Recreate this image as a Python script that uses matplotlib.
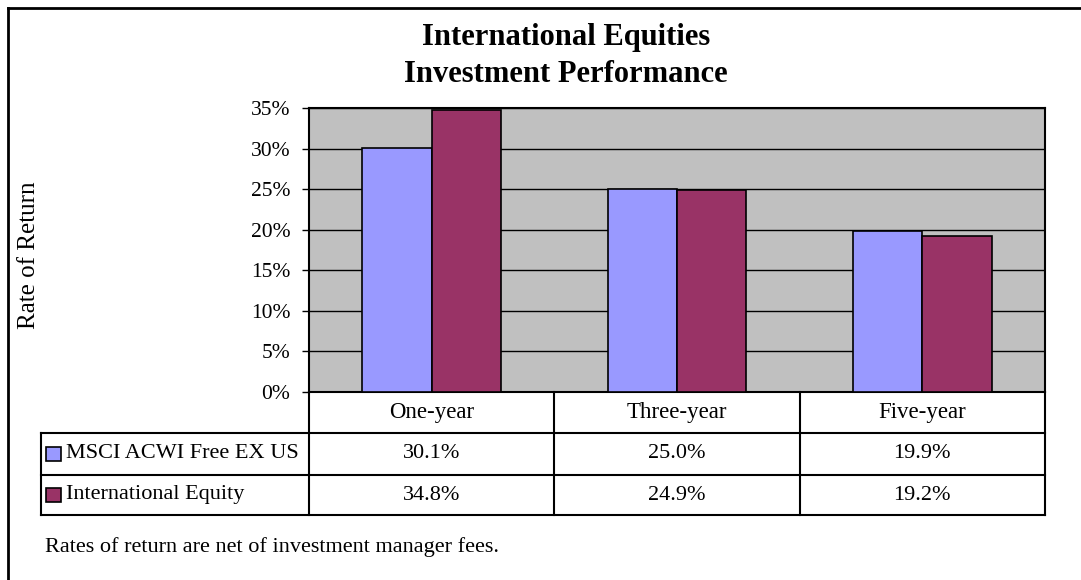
import matplotlib
matplotlib.use('Agg')
import matplotlib.pyplot as plt
from matplotlib.lines import Line2D
from matplotlib.patches import Rectangle
import matplotlib.transforms as mtransforms
import numpy as np

# ---- data ----
categories = ['One-year', 'Three-year', 'Five-year']
series_names = ['MSCI ACWI Free EX US', 'International Equity']
msci_values = [30.1, 25.0, 19.9]
intl_values = [34.8, 24.9, 19.2]
y_ticks = [0, 5, 10, 15, 20, 25, 30, 35]
title_lines = ['International Equities', 'Investment Performance']
y_label = 'Rate of Return'
footnote = 'Rates of return are net of investment manager fees.'
colors = ['#9999FF', '#993366']

plt.rcParams['font.family'] = ['Liberation Serif', 'DejaVu Serif']

W, H = 1081, 580
fig = plt.figure(figsize=(W / 100, H / 100), dpi=100)
fig.patch.set_facecolor('white')


def fx(x):
    return x / W


def fy(y):
    return 1 - y / H


PL, PR, PT, PB = 309, 1045, 108, 392
ax = fig.add_axes([fx(PL), fy(PB), (PR - PL) / W, (PB - PT) / H])
ax.set_facecolor('#C0C0C0')

x = np.arange(len(categories))
bw = 0.283
ax.bar(x - bw / 2, msci_values, bw, color=colors[0], edgecolor='black',
       linewidth=1.2, zorder=3)
ax.bar(x + bw / 2, intl_values, bw, color=colors[1], edgecolor='black',
       linewidth=1.2, zorder=3)
ax.set_xlim(-0.5, len(categories) - 0.5)
ax.set_ylim(0, 35)
ax.set_yticks(y_ticks)
ax.set_yticklabels([f'{t}%' for t in y_ticks])
ax.set_xticks([])
ax.yaxis.grid(True, color='black', linewidth=1.0)
ax.set_axisbelow(True)
ax.tick_params(axis='y', length=5, width=1, pad=8.5, labelsize=15.5)
for s in ax.spines.values():
    s.set_linewidth(1.5)
    s.set_color('black')

# title
fig.text(fx(566), fy(45), title_lines[0], ha='center', va='baseline',
         fontsize=22, fontweight='bold')
fig.text(fx(566), fy(82), title_lines[1], ha='center', va='baseline',
         fontsize=22, fontweight='bold')

# y label
fig.text(fx(29), fy(255), y_label, rotation=90, ha='center', va='center',
         fontsize=18)

# ---- data table ----
blend = mtransforms.blended_transform_factory(ax.transData, fig.transFigure)
TH, R1, R2, TB = 392, 433, 475, 515
LX = 41
lw = 1.5
for b in np.arange(len(categories) + 1) - 0.5:
    fig.add_artist(Line2D([b, b], [fy(TH), fy(TB)], transform=blend,
                          color='black', linewidth=lw))
fig.add_artist(Line2D([fx(LX), fx(LX)], [fy(R1), fy(TB)],
                      transform=fig.transFigure, color='black', linewidth=lw))
for yy in [R1, R2, TB]:
    fig.add_artist(Line2D([fx(LX), fx(PR)], [fy(yy), fy(yy)],
                          transform=fig.transFigure, color='black', linewidth=lw))

for i, c in enumerate(categories):
    fig.text(i, fy((TH + R1) / 2), c, transform=blend, ha='center',
             va='center', fontsize=16.5)

rows = [msci_values, intl_values]
row_centers = [(R1 + R2) / 2, (R2 + TB) / 2]
for r, (vals, yc) in enumerate(zip(rows, row_centers)):
    fig.add_artist(Rectangle((fx(46), fy(yc + 7)), 15 / W, 14 / H,
                             transform=fig.transFigure, facecolor=colors[r],
                             edgecolor='black', linewidth=1.2))
    fig.text(fx(66), fy(yc), series_names[r], ha='left', va='center',
             fontsize=16)
    for i, v in enumerate(vals):
        fig.text(i, fy(yc), f'{v:.1f}%', transform=blend, ha='center',
                 va='center', fontsize=16)

# footnote
fig.text(fx(45), fy(547), footnote, ha='left', va='center', fontsize=16)

# outer frame (top and left)
fig.add_artist(Line2D([fx(8), 1], [fy(7.5), fy(7.5)], transform=fig.transFigure,
                      color='black', linewidth=2))
fig.add_artist(Line2D([fx(8), fx(8)], [fy(7.5), 0], transform=fig.transFigure,
                      color='black', linewidth=2))

fig.savefig('out.png', dpi=100)
